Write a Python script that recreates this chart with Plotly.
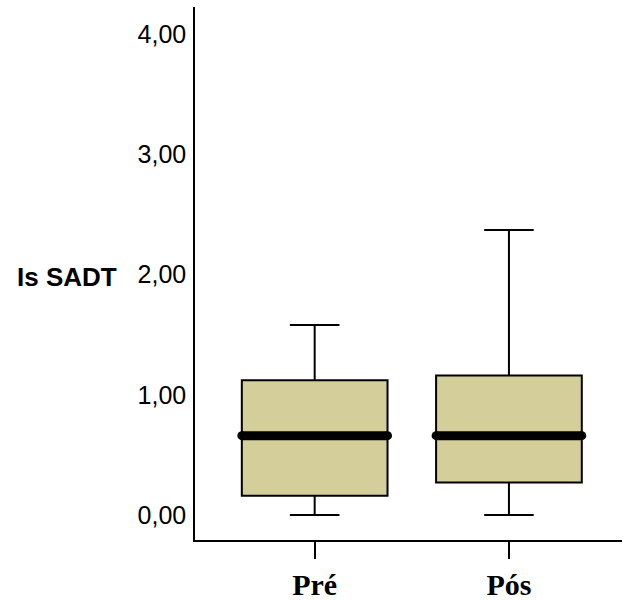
import plotly.graph_objects as go

categories = ["Pré", "Pós"]
positions = [0, 1]
q1 = [0.16, 0.27]
median = [0.66, 0.66]
q3 = [1.12, 1.16]
lower = [0.0, 0.0]
upper = [1.58, 2.37]
y_tickvals = [0, 1, 2, 3, 4]
y_ticktext = ["0,00", "1,00", "2,00", "3,00", "4,00"]

box_w = 0.75
fig = go.Figure()
fig.add_trace(go.Box(
    x=positions, q1=q1, median=median, q3=q3,
    lowerfence=lower, upperfence=upper,
    width=box_w, whiskerwidth=0.34,
    fillcolor="#D3CE9A", line=dict(color="black", width=2),
    boxpoints=False, hoverinfo="skip", showlegend=False,
))
for p, m in zip(positions, median):
    fig.add_trace(go.Scatter(
        x=[p - box_w / 2, p + box_w / 2], y=[m, m], mode="lines+markers",
        line=dict(color="black", width=9),
        marker=dict(color="black", size=9, symbol="circle"),
        showlegend=False, hoverinfo="skip",
    ))

fig.update_layout(
    width=623, height=601,
    margin=dict(l=195, r=1, t=7, b=61),
    paper_bgcolor="white", plot_bgcolor="white",
    xaxis=dict(
        range=[-0.616, 1.582], tickvals=positions, ticktext=categories,
        showline=True, linecolor="black", linewidth=1.5,
        ticks="outside", ticklen=17, tickwidth=1.5, tickcolor="black",
        showgrid=False, zeroline=False,
        tickfont=dict(family="Liberation Serif", size=30, color="black", weight="bold"),
    ),
    yaxis=dict(
        range=[-0.208, 4.225], tickvals=y_tickvals, ticktext=y_ticktext,
        showline=True, linecolor="black", linewidth=1.5,
        ticks="", showgrid=False, zeroline=False, ticklabelstandoff=2,
        tickfont=dict(family="Liberation Sans", size=25, color="black"),
    ),
    annotations=[dict(
        text="<b>Is SADT</b>", xref="paper", yref="paper",
        x=-0.178, y=0.494, xanchor="right", yanchor="middle", showarrow=False,
        font=dict(family="Liberation Sans", size=26, color="black"),
    )],
)
fig.write_html("out.html", config={"displayModeBar": False},
               post_script="document.body.style.margin='0';")
